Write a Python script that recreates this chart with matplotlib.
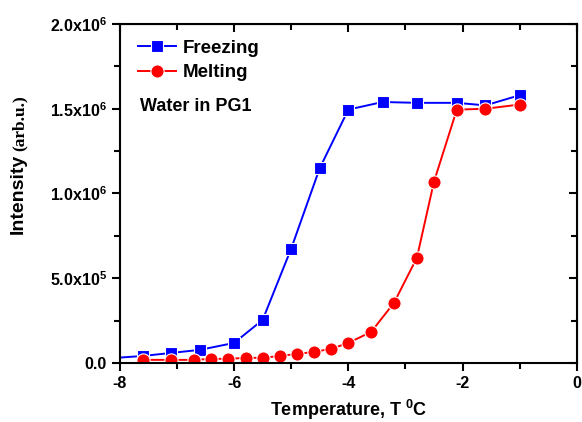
import numpy as np
import matplotlib.pyplot as plt
from matplotlib.ticker import MultipleLocator, FuncFormatter

plt.rcParams['font.family'] = 'Liberation Sans'
plt.rcParams['font.weight'] = 'bold'
plt.rcParams['axes.labelweight'] = 'bold'
plt.rcParams['mathtext.fontset'] = 'custom'
plt.rcParams['mathtext.rm'] = 'Liberation Sans:bold'
plt.rcParams['mathtext.bf'] = 'Liberation Sans:bold'

# freezing run (first point sits left of the axis window)
t_freeze = [-8.4, -7.6, -7.1, -6.6, -6.0, -5.5, -5.0, -4.5, -4.0, -3.4, -2.8, -2.1, -1.6, -1.0]
i_freeze = [2.2e4, 4.1e4, 5.9e4, 7.7e4, 1.18e5, 2.54e5, 6.75e5, 1.15e6, 1.495e6, 1.54e6,
            1.535e6, 1.535e6, 1.52e6, 1.58e6]

# melting run
t_melt = [-7.6, -7.1, -6.7, -6.4, -6.1, -5.8, -5.5, -5.2, -4.9, -4.6, -4.3, -4.0,
          -3.6, -3.2, -2.8, -2.5, -2.1, -1.6, -1.0]
i_melt = [1.8e4, 1.8e4, 1.8e4, 2.4e4, 2.4e4, 3.0e4, 3.0e4, 4.1e4, 5.3e4, 6.5e4, 8.3e4, 1.18e5,
          1.83e5, 3.55e5, 6.2e5, 1.07e6, 1.495e6, 1.5e6, 1.525e6]

fig = plt.figure(figsize=(5.82, 4.22), dpi=100)
ax = fig.add_axes([0.206, 0.140, 0.785, 0.803])

ax.plot(t_freeze, i_freeze, '-s', color='#0000ff', lw=1.4, ms=8.5,
        mec='white', mew=0.8, label='Freezing')
ax.plot(t_melt, i_melt, '-o', color='#ff0000', lw=1.4, ms=9.5,
        mec='white', mew=0.8, label='Melting')

ax.set_xlim(-8, 0)
ax.set_ylim(0, 2.0e6)
ax.xaxis.set_major_locator(MultipleLocator(2))
ax.xaxis.set_minor_locator(MultipleLocator(1))
ax.yaxis.set_major_locator(MultipleLocator(5e5))
ax.yaxis.set_minor_locator(MultipleLocator(2.5e5))


def sci(v, pos):
    if v <= 0:
        return '0.0'
    e = int(np.floor(np.log10(v)))
    return r'%.1fx10$^{%d}$' % (v / 10**e, e)


ax.yaxis.set_major_formatter(FuncFormatter(sci))
ax.xaxis.set_major_formatter(FuncFormatter(lambda v, p: '%d' % v))

for s in ax.spines.values():
    s.set_linewidth(1.5)
ax.tick_params(which='both', direction='out', width=1.5, labelsize=11.5, top=False, right=False)
ax.tick_params(which='major', length=6)
ax.tick_params(which='minor', length=4)

# inward ticks on the top and right edges
top = ax.secondary_xaxis('top')
top.xaxis.set_major_locator(MultipleLocator(2))
top.xaxis.set_minor_locator(MultipleLocator(1))
top.tick_params(which='both', direction='in', width=1.5, labeltop=False)
top.tick_params(which='major', length=6)
top.tick_params(which='minor', length=4)
right = ax.secondary_yaxis('right')
right.yaxis.set_major_locator(MultipleLocator(5e5))
right.yaxis.set_minor_locator(MultipleLocator(2.5e5))
right.tick_params(which='both', direction='in', width=1.5, labelright=False)
right.tick_params(which='major', length=6)
right.tick_params(which='minor', length=4)

ax.set_xlabel(r'Temperature, T $^{0}$C', fontsize=13, labelpad=5)
fig.text(0.031, 0.4455, 'Intensity', rotation=90, fontsize=14, fontweight='bold',
         ha='center', va='bottom')
fig.text(0.033, 0.642, '(arb.u.)', rotation=90, fontsize=12.5, fontweight='bold',
         family='Liberation Serif', ha='center', va='bottom')

ax.legend(loc='upper left', frameon=False, fontsize=13.5, handlelength=2.0,
          borderaxespad=0.25, labelspacing=0.4, handletextpad=0.4,
          bbox_to_anchor=(0.013, 0.99))
ax.text(0.044, 0.756, 'Water in PG1', transform=ax.transAxes, fontsize=13,
        fontweight='bold', ha='left', va='center')

fig.savefig('out.png', dpi=100)
